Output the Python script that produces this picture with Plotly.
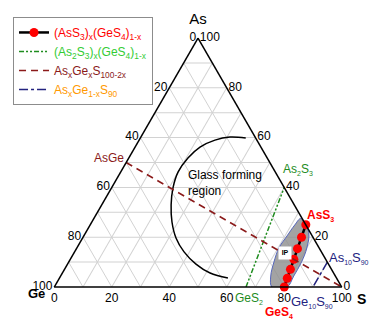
import plotly.graph_objects as go

# ---------------- data (at.% As, Ge, S) ----------------
ticks = [0, 10, 20, 30, 40, 50, 60, 70, 80, 90, 100]

# (AsS3)x(GeS4)1-x  measured compositions
ser1_as = [0, 3.5, 7.1, 11.1, 15.4, 20.0, 25.0]
ser1_ge = [20.0, 17.2, 14.3, 11.1, 7.7, 4.0, 0]
ser1_s = [80.0, 79.3, 78.6, 77.8, 76.9, 76.0, 75.0]

# (As2S3)x(GeS4)1-x  join GeS2 -> As2S3
ser2_as = [0, 40.0]
ser2_ge = [33.3, 0]
ser2_s = [66.7, 60.0]

# AsxGexS100-2x  join AsGe -> S
ser3_as = [50.0, 0]
ser3_ge = [50.0, 0]
ser3_s = [0, 100.0]

# AsxGe1-xS90  join As10S90 -> Ge10S90
ser4_as = [10.0, 0]
ser4_ge = [0, 10.0]
ser4_s = [90.0, 90.0]

# glass forming region boundary
glass_as = [59.8, 60.2, 59.0, 56.2, 51.8, 46.2, 39.8, 32.9, 26.1, 19.7, 14.1, 9.2, 5.6, 3.6]
glass_ge = [3.5, 8.8, 14.6, 21.2, 27.6, 33.8, 38.8, 42.9, 46.0, 47.8, 47.8, 46.1, 43.0, 37.8]
glass_s = [36.7, 31.0, 26.4, 22.6, 20.6, 20.0, 21.4, 24.2, 27.9, 32.5, 38.1, 44.7, 51.4, 58.6]

# intermediate phase (IP) region outline
ip_as = [27.5, 22.0, 15.7, 10.0, 4.4, 0, 0, 4.4, 10.0, 15.7, 20.5, 24.9, 27.5]
ip_ge = [0.5, 0.5, 4.3, 9.0, 14.5, 19.0, 24.3, 22.5, 18.6, 14.0, 8.8, 3.9, 0.5]
ip_s = [72.0, 77.5, 80.0, 81.0, 81.1, 81.0, 75.7, 73.1, 71.4, 70.3, 70.7, 71.2, 72.0]

# compound / corner labels, placed at their compositions (As, Ge, S)
SUB = "<sub><span style='font-size:7px'>{}</span></sub>"
lbl_text = ["AsGe", "As" + SUB.format(2) + "S" + SUB.format(3), "GeS" + SUB.format(2),
            "<b>AsS" + SUB.format(3) + "</b>", "<b>GeS" + SUB.format(4) + "</b>",
            "As" + SUB.format(10) + "S" + SUB.format(90), "Ge" + SUB.format(10) + "S" + SUB.format(90),
            "<b>Ge</b>", "<b>S</b>"]
lbl_as = [50.0, 40.0, 0, 25.0, 0, 10.0, 0, 0, 0]
lbl_ge = [50.0, 0, 33.3, 0, 20.0, 0, 10.0, 100.0, 0]
lbl_s = [0, 60.0, 66.7, 75.0, 80.0, 90.0, 90.0, 0, 100.0]

FONT = "Arial, Liberation Sans, sans-serif"
RED = "#ff0000"
GREEN_LINE = "#1e8c1e"
GREEN_TXT = "#33cc33"
DRED = "#8b1a1a"
NAVY = "#23237f"
ORANGE = "#ff9900"
lbl_color = [DRED, GREEN_LINE, GREEN_LINE, RED, RED, NAVY, NAVY, "black", "black"]
lbl_size = [12, 12, 12, 12, 12, 13, 13, 13, 14]
lbl_dx = [-17, 14, 3, 14, -5, 21, -1, -18, 19]     # pixel offsets of the label from its point
lbl_dy = [5, 18, -11, 9, -25, 4, -15, -6, -12]

DOM_X = [54 / 383, 342 / 383]
DOM_Y = [39 / 326, 288 / 326]


def to_paper(a, b, c):
    tot = a + b + c
    a, c = a / tot, c / tot
    x = DOM_X[0] + (c + a / 2) * (DOM_X[1] - DOM_X[0])
    y = DOM_Y[0] + a * (DOM_Y[1] - DOM_Y[0])
    return x, y


fig = go.Figure()

# IP region
fig.add_trace(go.Scatterternary(
    a=ip_as, b=ip_ge, c=ip_s, mode="lines", fill="toself",
    fillcolor="rgba(140,140,140,0.8)", line=dict(color="#5566bb", width=1, shape="spline"),
    showlegend=False, hoverinfo="skip"))

# glass forming region
fig.add_trace(go.Scatterternary(
    a=glass_as, b=glass_ge, c=glass_s, mode="lines",
    line=dict(color="black", width=1.5, shape="spline"), showlegend=False, hoverinfo="skip"))

fig.add_trace(go.Scatterternary(
    a=ser1_as, b=ser1_ge, c=ser1_s, mode="lines+markers",
    name="<span style='color:#ff0000'>(AsS<sub>3</sub>)<sub>x</sub>(GeS<sub>4</sub>)<sub>1-x</sub></span>",
    line=dict(color="black", width=2.5), marker=dict(color=RED, size=9), cliponaxis=False))

fig.add_trace(go.Scatterternary(
    a=ser2_as, b=ser2_ge, c=ser2_s, mode="lines",
    name=f"<span style='color:{GREEN_TXT}'>(As<sub>2</sub>S<sub>3</sub>)<sub>x</sub>(GeS<sub>4</sub>)<sub>1-x</sub></span>",
    line=dict(color=GREEN_LINE, width=1.5, dash="5px,2px,2px,2px,2px,2px")))

fig.add_trace(go.Scatterternary(
    a=ser3_as, b=ser3_ge, c=ser3_s, mode="lines",
    name=f"<span style='color:{DRED}'>As<sub>x</sub>Ge<sub>x</sub>S<sub>100-2x</sub></span>",
    line=dict(color=DRED, width=1.5, dash="7px,5px")))

fig.add_trace(go.Scatterternary(
    a=ser4_as, b=ser4_ge, c=ser4_s, mode="lines",
    name=f"<span style='color:{ORANGE}'>As<sub>x</sub>Ge<sub>1-x</sub>S<sub>90</sub></span>",
    line=dict(color=NAVY, width=1.5, dash="dashdot")))

# IP tag
fig.add_trace(go.Scatterternary(
    a=[13.7], b=[12.9], c=[73.4], mode="markers+text", text=["<b>IP</b>"],
    textposition="middle center", textfont=dict(size=7, color="black", family=FONT),
    marker=dict(symbol="square", size=13, color="white", line=dict(width=0)),
    showlegend=False, hoverinfo="skip"))

fig.add_trace(go.Scatterternary(
    a=[41.4], b=[32.8], c=[25.8], mode="text", text=["Glass forming<br>region"],
    textposition="middle right", textfont=dict(size=12, color="black", family=FONT),
    cliponaxis=False, showlegend=False, hoverinfo="skip"))

for t, a, b, c, col, sz, dx, dy in zip(lbl_text, lbl_as, lbl_ge, lbl_s, lbl_color,
                                       lbl_size, lbl_dx, lbl_dy):
    px, py = to_paper(a, b, c)
    fig.add_annotation(x=px, y=py, xref="paper", yref="paper", text=t, showarrow=False,
                       xanchor="center", yanchor="middle", xshift=dx, yshift=dy,
                       font=dict(size=sz, color=col, family=FONT))


def axis(title, tick_text, tsize):
    return dict(
        title=dict(text=title, font=dict(size=tsize, color="black", family=FONT)),
        tickmode="array", tickvals=ticks, ticktext=tick_text,
        tickfont=dict(size=12, color="black", family=FONT),
        showgrid=True, gridcolor="#d2d2d2", gridwidth=1,
        linecolor="black", linewidth=1.5, ticks="", min=0)


rev = [("" if v % 20 else str(100 - v)) for v in ticks]

fig.update_layout(
    width=383, height=326, margin=dict(l=0, r=0, t=0, b=0),
    paper_bgcolor="white", font=dict(family=FONT, color="black"),
    ternary=dict(
        sum=100, bgcolor="white",
        domain=dict(x=DOM_X, y=DOM_Y),
        aaxis=axis("As", rev, 15),
        baxis=axis("", rev, 13),
        caxis=axis("", rev, 13),
    ),
    legend=dict(x=0.034, y=0.948, xanchor="left", yanchor="top",
                bgcolor="white", bordercolor="#8c8c8c", borderwidth=1,
                font=dict(size=12, family=FONT), itemwidth=30, tracegroupgap=0),
    showlegend=True,
)

fig.write_html("out.html")
